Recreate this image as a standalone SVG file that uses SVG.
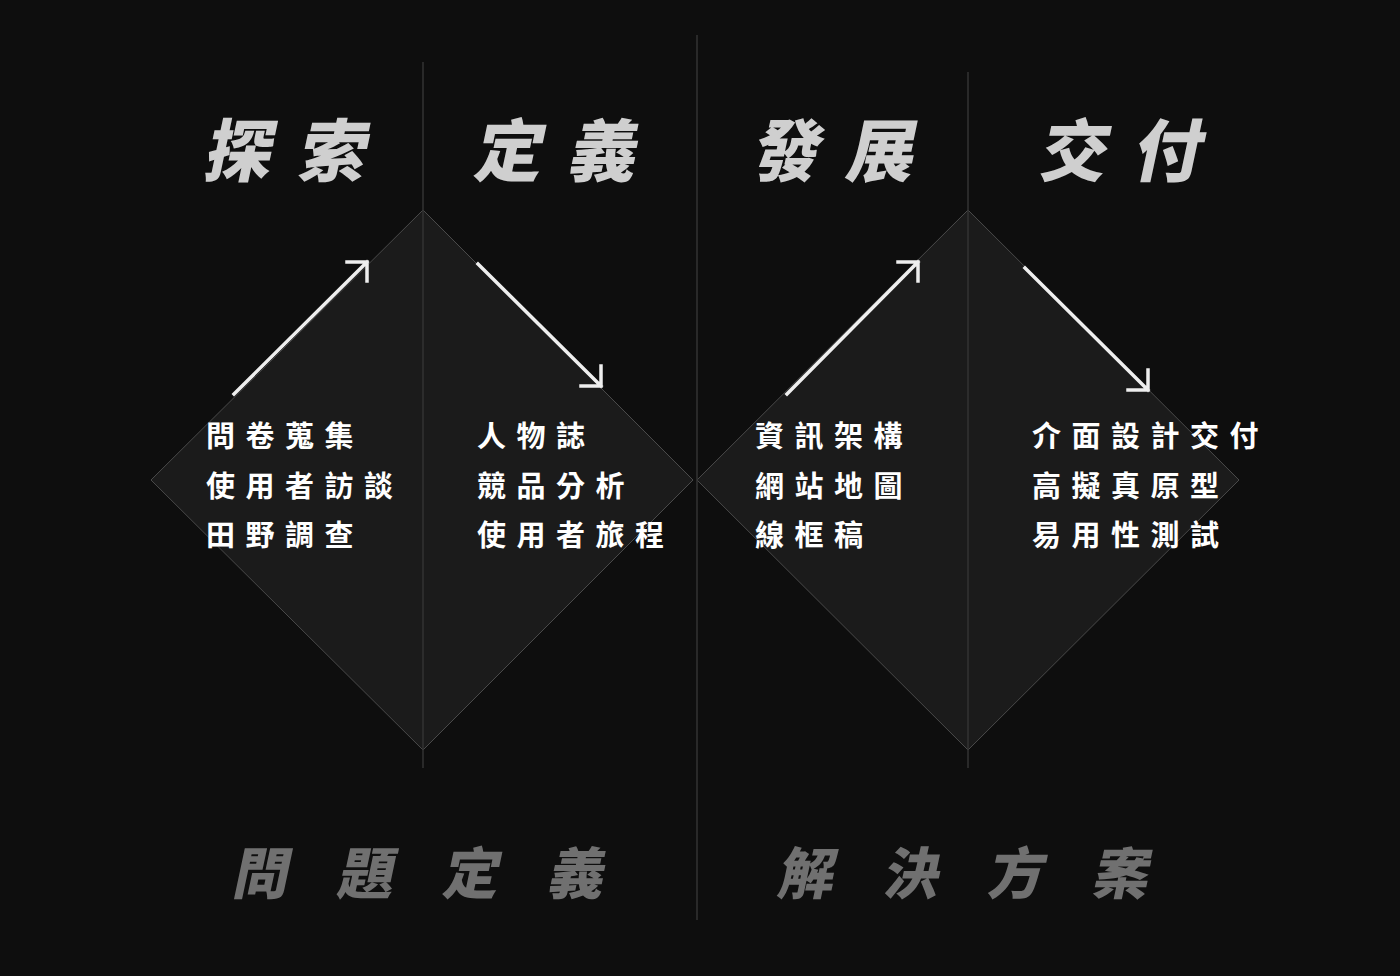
<svg xmlns="http://www.w3.org/2000/svg" width="1400" height="976" viewBox="0 0 1400 976">
<defs>
<style>
.t{font-family:"Noto Sans CJK TC","Noto Sans CJK SC",sans-serif;font-weight:900;fill:#cfcfcf;font-size:68px;letter-spacing:26px}
.b{font-family:"Noto Sans CJK TC","Noto Sans CJK SC",sans-serif;font-weight:900;fill:#707070;font-size:56px;letter-spacing:49px}
.l{font-family:"Noto Sans CJK TC","Noto Sans CJK SC",sans-serif;font-weight:700;fill:#fff;font-size:29px;letter-spacing:10.5px}
.d{fill:#1b1b1b;stroke:#4a4a4a;stroke-width:1}
.v{stroke:#333;stroke-width:1.5}
.a{stroke:#eee;stroke-width:3.5;fill:none;stroke-linecap:square}
</style>
</defs>
<rect width="1400" height="976" fill="#0e0e0e"/>
<g id="diamond-left"><polygon class="d" points="423,210 693,480 423,750 151,480"/></g>
<g id="diamond-right"><polygon class="d" points="968,210 1239,480 968,750 697,480"/></g>
<g id="dividers">
<line class="v" x1="423" y1="62" x2="423" y2="768"/>
<line class="v" x1="697" y1="35" x2="697" y2="920"/>
<line class="v" x1="968" y1="72" x2="968" y2="768"/>
</g>
<g id="titles">
<text class="t" transform="translate(202,176) skewX(-12)">探索</text>
<text class="t" transform="translate(472,176) skewX(-12)">定義</text>
<text class="t" transform="translate(750,176) skewX(-12)">發展</text>
<text class="t" transform="translate(1037,176) skewX(-12)">交付</text>
</g>
<g id="connectors">
<path class="a" d="M234,394 L367,262 M347,262 L367,262 L367,281"/>
<path class="a" d="M478,264 L601,386 M601,366 L601,386 L581,386"/>
<path class="a" d="M787,394 L918,262 M898,262 L918,262 L918,281"/>
<path class="a" d="M1025,268 L1148,390 M1148,370 L1148,390 L1128,390"/>
</g>
<g id="list-explore"><text class="l" x="206" y="447">問卷蒐集</text><text class="l" x="206" y="497">使用者訪談</text><text class="l" x="206" y="546">田野調查</text></g>
<g id="list-define"><text class="l" x="477" y="447">人物誌</text><text class="l" x="477" y="497">競品分析</text><text class="l" x="477" y="546">使用者旅程</text></g>
<g id="list-develop"><text class="l" x="755" y="447">資訊架構</text><text class="l" x="755" y="497">網站地圖</text><text class="l" x="755" y="546">線框稿</text></g>
<g id="list-deliver"><text class="l" x="1032" y="447">介面設計交付</text><text class="l" x="1032" y="497">高擬真原型</text><text class="l" x="1032" y="546">易用性測試</text></g>
<g id="bottom">
<text class="b" transform="translate(231,894) skewX(-12)">問題定義</text>
<text class="b" transform="translate(776,894) skewX(-12)">解決方案</text>
</g>
</svg>
